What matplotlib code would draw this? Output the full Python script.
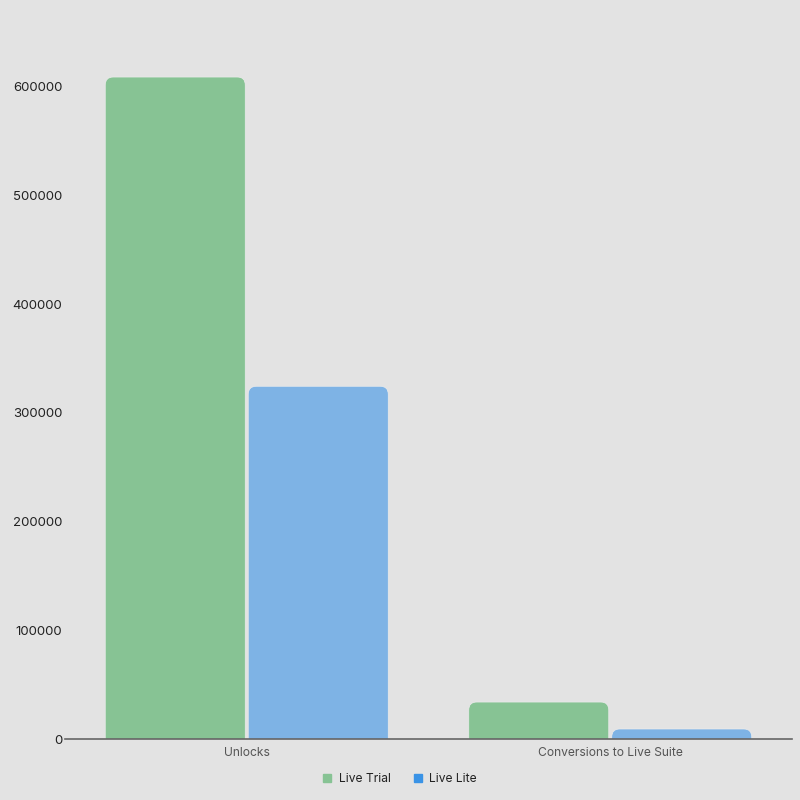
import matplotlib.pyplot as plt
from matplotlib.patches import FancyBboxPatch
from matplotlib.lines import Line2D

categories = ["Unlocks", "Conversions to Live Suite"]
live_trial = [609000, 34000]
live_lite = [324500, 9200]
series_names = ["Live Trial", "Live Lite"]

bar_colors = ["#87c394", "#7eb3e5"]
legend_colors = ["#87c394", "#3a93e6"]

plt.rcParams['font.family'] = ['Inter', 'DejaVu Sans']

W, H = 800, 800
fig = plt.figure(figsize=(8, 8), dpi=100, facecolor="#e3e3e3")
ax_left, ax_right = 65 / W, 792 / W
ax_bottom, ax_top = 1 - 739 / H, 1 - 21.6 / H
ax = fig.add_axes([ax_left, ax_bottom, ax_right - ax_left, ax_top - ax_bottom])
ax.set_facecolor("#e3e3e3")

ymax = 660000
ax.set_xlim(-0.5, len(categories) - 0.5)
ax.set_ylim(0, ymax)

# units per pixel to keep corners round
px_w = (ax_right - ax_left) * W
px_h = (ax_top - ax_bottom) * H
x_per_px = (len(categories)) / px_w
y_per_px = ymax / px_h
aspect = y_per_px / x_per_px

radius = 8 * x_per_px
bar_w = 140 * x_per_px
offset = 71.5 * x_per_px


def rounded_bar(ax, xc, value, color):
    r_y = radius * aspect
    patch = FancyBboxPatch((xc - bar_w / 2, -r_y), bar_w, value + r_y,
                           boxstyle=f"round,pad=0,rounding_size={radius}",
                           mutation_aspect=aspect,
                           facecolor=color, edgecolor="#ececec", linewidth=0.5)
    ax.add_patch(patch)


for i, (vt, vl) in enumerate(zip(live_trial, live_lite)):
    rounded_bar(ax, i - offset, vt, bar_colors[0])
    rounded_bar(ax, i + offset, vl, bar_colors[1])

ax.set_xticks(range(len(categories)))
ax.set_xticklabels(categories, color="#555555", fontsize=8.7)
ax.set_yticks(range(0, 600001, 100000))
ax.set_yticklabels([str(v) for v in range(0, 600001, 100000)], color="#222222", fontsize=9.5)
ax.tick_params(axis='both', length=0)
ax.tick_params(axis='y', pad=2)
ax.tick_params(axis='x', pad=6)

for s in ["top", "left", "right"]:
    ax.spines[s].set_visible(False)
ax.spines["bottom"].set_color("#666666")
ax.spines["bottom"].set_linewidth(1.2)
ax.spines["bottom"].set_zorder(5)

handles = [Line2D([], [], marker='s', linestyle='none', markersize=5.5,
                  markerfacecolor=c, markeredgecolor=c) for c in legend_colors]
fig.legend(handles, series_names, loc='center', bbox_to_anchor=(0.5, 1 - 779 / H),
           ncol=2, frameon=False, fontsize=8.7, handlelength=0.7, handletextpad=0.6,
           columnspacing=1.9, labelcolor="#222222")

fig.savefig("out.png", dpi=100, facecolor=fig.get_facecolor())
